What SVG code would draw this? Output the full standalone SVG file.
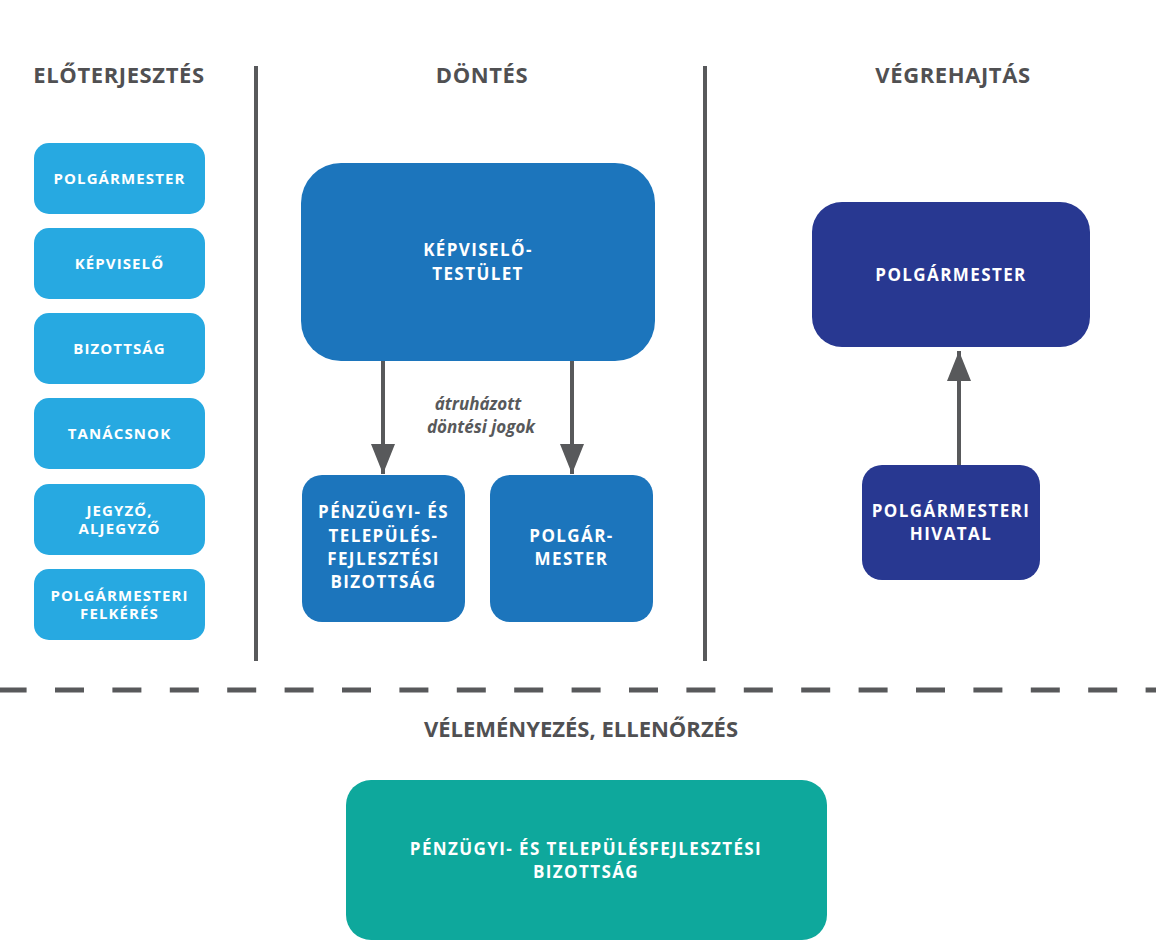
<svg xmlns="http://www.w3.org/2000/svg" width="1156" height="942" viewBox="0 0 1156 942">
<style>
.h{font-family:"Open Sans","Liberation Sans",sans-serif;font-weight:700;font-size:22px;fill:#505052;text-anchor:middle;letter-spacing:0.6px}
.t{font-family:"Open Sans","Liberation Sans",sans-serif;font-weight:700;font-size:15px;fill:#ffffff;text-anchor:middle;letter-spacing:1.1px}
.tb{font-family:"Open Sans","Liberation Sans",sans-serif;font-weight:700;font-size:17px;fill:#ffffff;text-anchor:middle;letter-spacing:1.4px}
.it{font-family:"Open Sans","Liberation Sans",sans-serif;font-weight:700;font-style:italic;font-size:17px;fill:#58595b;text-anchor:middle}
.lb{fill:#27a9e1}
.mb{fill:#1c75bc}
.db{fill:#283891}
.tl{fill:#0ea89c}
.sep{stroke:#58595b;stroke-width:4;fill:none}
.con{stroke:#58595b;stroke-width:4;fill:none}
</style>
<defs>
<marker id="ah" viewBox="0 0 30 24" refX="30" refY="12" markerWidth="30" markerHeight="24" markerUnits="userSpaceOnUse" orient="auto">
<path d="M0,0 L30,12 L0,24 Z" fill="#58595b"/>
</marker>
</defs>
<rect width="1156" height="942" fill="#ffffff"/>
<g id="headings">
<text class="h" x="119" y="83">ELŐTERJESZTÉS</text>
<text class="h" x="482" y="83">DÖNTÉS</text>
<text class="h" x="953" y="83">VÉGREHAJTÁS</text>
<text class="h" x="581" y="737" style="letter-spacing:0">VÉLEMÉNYEZÉS, ELLENŐRZÉS</text>
</g>
<g id="separators">
<line class="sep" x1="256" y1="66" x2="256" y2="661"/>
<line class="sep" x1="705" y1="66" x2="705" y2="661"/>
<line x1="-2.4" y1="690" x2="1160" y2="690" stroke="#58595b" stroke-width="5" stroke-dasharray="29 28.4"/>
</g>
<g id="n-polgarmester-1"><rect class="lb" x="34" y="143" width="171" height="71" rx="15"/><text class="t" x="119.5" y="184">POLGÁRMESTER</text></g>
<g id="n-kepviselo"><rect class="lb" x="34" y="228" width="171" height="71" rx="15"/><text class="t" x="119.5" y="269">KÉPVISELŐ</text></g>
<g id="n-bizottsag"><rect class="lb" x="34" y="313" width="171" height="71" rx="15"/><text class="t" x="119.5" y="354">BIZOTTSÁG</text></g>
<g id="n-tanacsnok"><rect class="lb" x="34" y="398" width="171" height="71" rx="15"/><text class="t" x="119.5" y="439">TANÁCSNOK</text></g>
<g id="n-jegyzo"><rect class="lb" x="34" y="484" width="171" height="71" rx="15"/><text class="t" x="119.5" y="515.5">JEGYZŐ,</text><text class="t" x="119.5" y="534">ALJEGYZŐ</text></g>
<g id="n-felkeres"><rect class="lb" x="34" y="569" width="171" height="71" rx="15"/><text class="t" x="119.5" y="600.5">POLGÁRMESTERI</text><text class="t" x="119.5" y="619">FELKÉRÉS</text></g>
<g id="n-testulet"><rect class="mb" x="301" y="163" width="354" height="198" rx="40"/><text class="tb" x="478" y="256">KÉPVISELŐ-</text><text class="tb" x="478" y="280">TESTÜLET</text></g>
<g id="n-pfb"><rect class="mb" x="302" y="475" width="163" height="147" rx="20"/><text class="tb" x="383.5" y="518">PÉNZÜGYI- ÉS</text><text class="tb" x="383.5" y="542">TELEPÜLÉS-</text><text class="tb" x="383.5" y="565">FEJLESZTÉSI</text><text class="tb" x="383.5" y="588">BIZOTTSÁG</text></g>
<g id="n-polgar-mester"><rect class="mb" x="490" y="475" width="163" height="147" rx="20"/><text class="tb" x="571.5" y="542">POLGÁR-</text><text class="tb" x="571.5" y="565">MESTER</text></g>
<g id="n-polgarmester-v"><rect class="db" x="812" y="202" width="278" height="145" rx="30"/><text class="tb" x="951" y="281">POLGÁRMESTER</text></g>
<g id="n-hivatal"><rect class="db" x="862" y="465" width="178" height="115" rx="20"/><text class="tb" x="951" y="517">POLGÁRMESTERI</text><text class="tb" x="951" y="540">HIVATAL</text></g>
<g id="n-velemenyezes"><rect class="tl" x="346" y="780" width="481" height="160" rx="25"/><text class="tb" x="586" y="855">PÉNZÜGYI- ÉS TELEPÜLÉSFEJLESZTÉSI</text><text class="tb" x="586" y="878">BIZOTTSÁG</text></g>
<g id="connectors">
<line class="con" x1="383" y1="361" x2="383" y2="474" marker-end="url(#ah)"/>
<line class="con" x1="572" y1="361" x2="572" y2="474" marker-end="url(#ah)"/>
<line class="con" x1="959" y1="465" x2="959" y2="351" marker-end="url(#ah)"/>
<text class="it" x="478" y="410">átruházott</text>
<text class="it" x="481" y="433">döntési jogok</text>
</g>
</svg>
